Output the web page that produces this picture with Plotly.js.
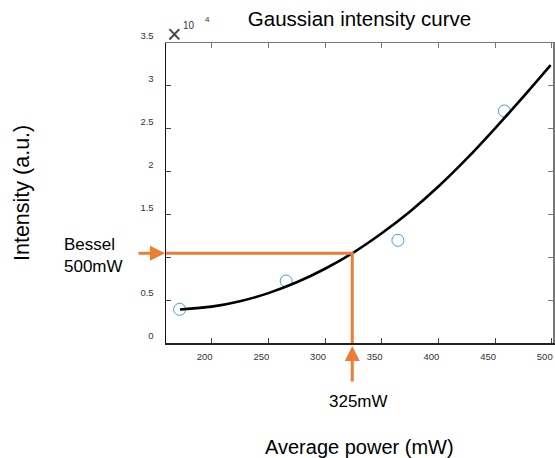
<!DOCTYPE html>
<html>
<head>
<meta charset="utf-8">
<script src="https://cdn.plot.ly/plotly-3.0.1.min.js"></script>
<style>html,body{margin:0;padding:0;background:#fff;}#chart{width:555px;height:458px;}</style>
</head>
<body>
<div id="chart"></div>
<script>
// ---- data ----
const measuredPower = [171.7, 265.7, 364.3, 458.2];          // mW
const measuredIntensity = [3930, 7230, 11980, 27070];        // a.u.
const curvePower = [172, 200, 225, 250, 275, 300, 325, 350, 375, 400, 425, 450, 475, 499];
const curveIntensity = [3900, 4240, 4870, 5820, 7080, 8660, 10550, 12800, 15350, 18250, 21500, 25050, 28750, 32430];
const besselPower = 324;        // "325mW" marker
const besselIntensity = 10470;  // Bessel 500mW level
const xTickVals = [200, 250, 300, 350, 400, 450, 500];
const xTickText = ['200', '250', '300', '350', '400', '450', '500'];
const yTickVals = [0, 5000, 10000, 15000, 20000, 25000, 30000, 35000];
const yTickText = ['0', '0.5', '', '1.5', '2', '2.5', '3', '3.5'];

const FONT = 'Liberation Sans, Arial, Helvetica, sans-serif';
const ORANGE = '#ED7D31';
const xRange = [159.7, 501.1];
const yRange = [0, 35000];

const traces = [
  {
    x: measuredPower, y: measuredIntensity, type: 'scatter', mode: 'markers',
    marker: {symbol: 'circle-open', size: 12, color: '#4A9EDC', line: {width: 1, color: '#4A9EDC'}},
    hoverinfo: 'x+y', showlegend: false
  },
  {
    x: curvePower, y: curveIntensity, type: 'scatter', mode: 'lines',
    line: {color: '#000', width: 2.6, shape: 'spline', smoothing: 0.8},
    showlegend: false
  },
  {
    x: [xRange[0], besselPower, besselPower], y: [besselIntensity, besselIntensity, 0],
    type: 'scatter', mode: 'lines', line: {color: ORANGE, width: 3},
    showlegend: false, cliponaxis: false
  },
  {x: [], y: [], xaxis: 'x2', yaxis: 'y2', type: 'scatter', mode: 'markers', showlegend: false, hoverinfo: 'skip'}
];

const layout = {
  width: 555, height: 458,
  margin: {l: 166, r: 2, t: 43, b: 115, pad: 0},
  paper_bgcolor: '#fff', plot_bgcolor: '#fff',
  showlegend: false,
  font: {family: FONT, color: '#000'},
  title: {
    text: 'Gaussian intensity curve',
    font: {family: FONT, size: 20.5, color: '#000'},
    xref: 'paper', x: 0.5, xanchor: 'center',
    yref: 'container', y: 1 - 19 / 458, yanchor: 'middle'
  },
  xaxis: {
    range: xRange, showgrid: false, zeroline: false,
    showline: true, linecolor: '#222', linewidth: 1.5,
    ticks: 'inside', ticklen: 5, tickwidth: 1, tickcolor: '#444',
    tickvals: xTickVals, ticktext: xTickText,
    tickfont: {family: FONT, size: 9.5, color: '#333'},
    ticklabelshift: -7, ticklabelstandoff: 4,
    mirror: false, fixedrange: true
  },
  yaxis: {
    range: yRange, showgrid: false, zeroline: false,
    showline: true, linecolor: '#111', linewidth: 1.5,
    ticks: 'inside', ticklen: 5, tickwidth: 1, tickcolor: '#444',
    tickvals: yTickVals, ticktext: yTickText,
    tickfont: {family: FONT, size: 9.5, color: '#333'},
    ticklabelshift: -7, ticklabelstandoff: 9,
    mirror: false, fixedrange: true
  },
  xaxis2: {
    overlaying: 'x', side: 'top', anchor: 'y2', range: xRange,
    showgrid: false, zeroline: false, showline: true, linecolor: '#777', linewidth: 1.5,
    ticks: 'inside', ticklen: 5, tickcolor: '#777', tickvals: xTickVals,
    showticklabels: false, fixedrange: true
  },
  yaxis2: {
    overlaying: 'y', side: 'right', anchor: 'x2', range: yRange,
    showgrid: false, zeroline: false, showline: true, linecolor: '#777', linewidth: 1.5,
    ticks: 'inside', ticklen: 5, tickcolor: '#777', tickvals: yTickVals,
    showticklabels: false, fixedrange: true
  },
  annotations: [
    // y-axis title
    {text: 'Intensity (a.u.)', xref: 'paper', yref: 'paper', x: 0, y: 0.5, xshift: -144,
     xanchor: 'center', yanchor: 'middle', textangle: -90, showarrow: false,
     font: {family: FONT, size: 21.5, color: '#000'}},
    // x-axis title
    {text: 'Average power (mW)', xref: 'paper', yref: 'paper', x: 0.5, y: 0, yshift: -104,
     xanchor: 'center', yanchor: 'middle', showarrow: false,
     font: {family: FONT, size: 20, color: '#000'}},
    // exponent
    {text: '×', xref: 'paper', yref: 'paper', x: 0, y: 1, xshift: 8, yshift: 9,
     xanchor: 'center', yanchor: 'middle', showarrow: false,
     font: {family: FONT, size: 25, color: '#444'}},
    {text: '10', xref: 'paper', yref: 'paper', x: 0, y: 1, xshift: 22.5, yshift: 18,
     xanchor: 'center', yanchor: 'middle', showarrow: false,
     font: {family: FONT, size: 10, color: '#333'}},
    {text: '4', xref: 'paper', yref: 'paper', x: 0, y: 1, xshift: 41, yshift: 24,
     xanchor: 'center', yanchor: 'middle', showarrow: false,
     font: {family: FONT, size: 8, color: '#333'}},
    // horizontal arrow (Bessel level)
    {text: '', xref: 'paper', yref: 'y', x: 0, y: besselIntensity, ax: -29, ay: 0,
     showarrow: true, arrowhead: 2, arrowsize: 1, arrowwidth: 3, arrowcolor: ORANGE, standoff: 1},
    {text: 'Bessel<br>500mW', xref: 'paper', yref: 'y', x: 0, y: besselIntensity, xshift: -104, yshift: -2,
     xanchor: 'left', yanchor: 'middle', align: 'left', showarrow: false,
     font: {family: FONT, size: 17, color: '#000'}},
    // vertical arrow (325 mW)
    {text: '', xref: 'x', yref: 'paper', x: besselPower, y: 0, ax: 0, ay: 40,
     showarrow: true, arrowhead: 2, arrowsize: 1, arrowwidth: 3, arrowcolor: ORANGE, standoff: 3},
    {text: '325mW', xref: 'x', yref: 'paper', x: besselPower, y: 0, xshift: 6, yshift: -58,
     xanchor: 'center', yanchor: 'middle', showarrow: false,
     font: {family: FONT, size: 17, color: '#000'}}
  ]
};

Plotly.newPlot('chart', traces, layout, {staticPlot: true, displayModeBar: false});
</script>
</body>
</html>
